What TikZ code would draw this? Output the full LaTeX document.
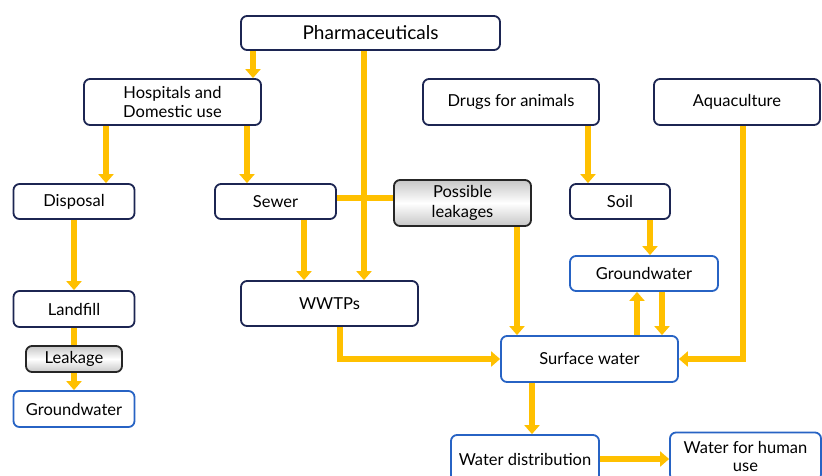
\documentclass[tikz,border=0pt]{standalone}
\usepackage{fontspec}
\setmainfont{Lato}
\usetikzlibrary{arrows.meta,calc}
\definecolor{flowyellow}{HTML}{FFC000}
\definecolor{boxnavy}{HTML}{1C2552}
\definecolor{boxblue}{HTML}{2763C4}
\begin{document}
\begin{tikzpicture}[x=1pt,y=-1pt,
		box/.style={draw=boxnavy,line width=1.8pt,rounded corners=6pt,fill=white,
			align=center,inner sep=0pt,font=\fontsize{16.5}{19.5}\selectfont},
		waterbox/.style={box,draw=boxblue},
		leakbox/.style={box,draw=black!85,top color=black!22,bottom color=black!22,middle color=white},
		flow/.style={draw=flowyellow,line width=6pt,-{Triangle[width=15pt,length=9pt]}},
		joint/.style={draw=flowyellow,line width=6pt}]
		\useasboundingbox (0,0) rectangle (822,475);

		% sources
		\node[box,minimum width=259pt,minimum height=34pt,font=\fontsize{19}{22}\selectfont] (pharma) at (370.5,33) {Pharmaceuticals};
		\node[box,minimum width=177pt,minimum height=46pt] (hosp) at (172.5,102) {Hospitals and\\Domestic use};
		\node[box,minimum width=176pt,minimum height=46pt] (drugs) at (511,102) {Drugs for animals};
		\node[box,minimum width=166pt,minimum height=46pt] (aqua) at (737,102) {Aquaculture};

		% middle row
		\node[box,minimum width=121pt,minimum height=35pt] (disposal) at (74,201.5) {Disposal};
		\node[box,minimum width=121pt,minimum height=35pt] (sewer) at (275.5,201.5) {Sewer};
		\node[leakbox,minimum width=137pt,minimum height=46pt] (leaks) at (462.5,203) {Possible\\leakages};
		\node[box,minimum width=100pt,minimum height=35pt] (soil) at (620,201.5) {Soil};
		\node[waterbox,minimum width=148pt,minimum height=35pt] (gwR) at (644,273.5) {Groundwater};

		% lower part
		\node[box,minimum width=177pt,minimum height=45pt] (wwtp) at (329.5,303.5) {WWTPs};
		\node[box,minimum width=121pt,minimum height=36pt] (landfill) at (74,309) {Landfill};
		\node[waterbox,minimum width=121pt,minimum height=36pt] (gwL) at (74,409) {Groundwater};
		\node[waterbox,minimum width=177pt,minimum height=46pt] (surface) at (589.5,359) {Surface water};
		\node[waterbox,minimum width=148pt,minimum height=48pt] (distrib) at (525,459) {Water distribution};
		\node[waterbox,minimum width=151pt,minimum height=48pt,font=\fontsize{16.5}{18}\selectfont] (human) at (745.5,456.5) {Water for human\\use};

		% connectors
		\draw[flow] ([xshift=-117.5pt]pharma.south) -- ([xshift=-117.5pt]pharma.south |- hosp.north);
		\draw[flow] ([xshift=-6.5pt]pharma.south) -- ([xshift=-6.5pt]pharma.south |- wwtp.north);
		\draw[flow] ([xshift=-66.5pt]hosp.south) -- ([xshift=-66.5pt]hosp.south |- disposal.north);
		\draw[flow] ([xshift=74.5pt]hosp.south) -- ([xshift=74.5pt]hosp.south |- sewer.north);
		\draw[joint] ([yshift=4pt]sewer.east) -- ([yshift=4pt]sewer.east -| leaks.west);
		\draw[flow] ([xshift=28.5pt]sewer.south) -- ([xshift=28.5pt]sewer.south |- wwtp.north);
		\draw[flow] ([xshift=54.5pt]leaks.south) -- ([xshift=54.5pt]leaks.south |- surface.north);
		\draw[flow] ([xshift=10.5pt]wwtp.south) |- (surface.west);
		\draw[flow] (disposal.south) -- (landfill.north);
		\draw[flow] (landfill.south) -- (gwL.north);
		\draw[flow] ([xshift=77pt]drugs.south) -- ([xshift=77pt]drugs.south |- soil.north);
		\draw[flow] ([xshift=30pt]soil.south) -- ([xshift=30pt]soil.south |- gwR.north);
		\draw[flow] ([xshift=47.5pt]surface.north) -- ([xshift=47.5pt]surface.north |- gwR.south);
		\draw[flow] ([xshift=18pt]gwR.south) -- ([xshift=18pt]gwR.south |- surface.north);
		\draw[flow] ([xshift=6pt]aqua.south) |- (surface.east);
		\draw[flow] ([xshift=-57.5pt]surface.south) -- ([xshift=-57.5pt]surface.south |- distrib.north);
		\draw[flow] (distrib.east) -- (distrib.east -| human.west);

		% leakage sits on the landfill line
		\node[leakbox,minimum width=96pt,minimum height=26pt] (leakage) at (74,359) {Leakage};
\end{tikzpicture}
\end{document}
